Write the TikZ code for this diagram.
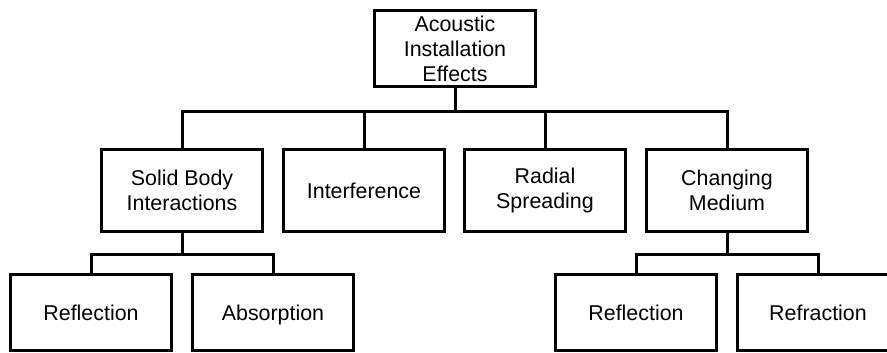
\documentclass[tikz,border=0pt]{standalone}
\usepackage{fontspec}
\setmainfont{Liberation Sans}
\begin{document}
\begin{tikzpicture}[x=1pt,y=-1pt,
  box/.style={draw=black, line width=3pt, fill=white, align=center, minimum width=161pt, inner sep=0pt,
    font=\fontsize{21.4}{25}\selectfont},
  tall/.style={box, minimum height=82pt},
  short/.style={box, minimum height=76pt},
  one/.style={text height=15.3pt, text depth=0pt},
  conn/.style={draw=black, line width=3pt}]
\useasboundingbox (0,0) rectangle (887,353);
\clip (0,0) rectangle (887,353);
\fill[white] (0,0) rectangle (887,353);
\node[short] (top) at (455,48.5) {Acoustic\\Installation\\Effects};
\node[tall] (solid) at (182,190.5) {Solid Body\\Interactions};
\node[tall, one] (interf) at (364,190.5) {Interference};
\node[tall] (radial) at (545,190.5) {Radial\\Spreading};
\node[tall] (chang) at (727,190.5) {Changing\\Medium};
\node[short, one] (refla) at (91,312.5) {Reflection};
\node[short, one] (absorp) at (273,312.5) {Absorption};
\node[short, one] (reflb) at (636,312.5) {Reflection};
\node[short, one] (refr) at (818,312.5) {Refraction};
\coordinate (bus) at (455,112);
\coordinate (sbus) at (182,254);
\coordinate (cbus) at (727,254);
\draw[conn] (top.south) -- (bus);
\draw[conn] (solid.north) |- (bus) -| (chang.north);
\draw[conn] (interf.north) -- (interf.north |- bus);
\draw[conn] (radial.north) -- (radial.north |- bus);
\draw[conn] (solid.south) -- (sbus);
\draw[conn] (refla.north) |- (sbus) -| (absorp.north);
\draw[conn] (chang.south) -- (cbus);
\draw[conn] (reflb.north) |- (cbus) -| (refr.north);
\end{tikzpicture}
\end{document}
